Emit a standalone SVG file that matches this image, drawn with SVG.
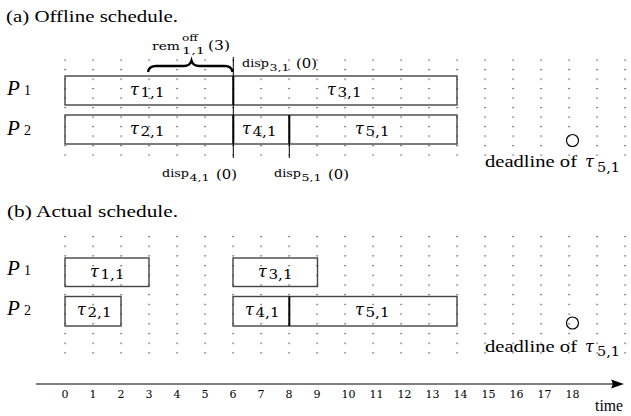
<svg xmlns="http://www.w3.org/2000/svg" width="631" height="416" viewBox="0 0 631 416">
<style>
.title{font-family:'Liberation Serif','Times New Roman',Times,serif;font-size:17px;fill:#000}
.proc{font-family:'Liberation Serif','Times New Roman',Times,serif;font-style:italic;font-size:21px}
.psub{font-family:'Liberation Serif','Times New Roman',Times,serif;font-size:14px}
.tau{font-family:'DejaVu Serif',serif;font-style:italic;font-size:16px}
.tsub{font-family:'DejaVu Serif',serif;font-size:12px}
.cm{font-family:'DejaVu Serif',serif;font-size:11px}
.cmp{font-family:'DejaVu Serif',serif;font-size:12px}
.cms{font-family:'DejaVu Serif',serif;font-size:9px}
.tick{font-family:'DejaVu Serif',serif;font-size:11px;text-anchor:middle}
.dl{font-family:'Liberation Serif','Times New Roman',Times,serif;font-size:17px}
.box{fill:none;stroke:#444;stroke-width:1.4}
.div{stroke:#000;stroke-width:2}
.thin{stroke:#000;stroke-width:1}
</style>
<defs>
<pattern id="gA" x="64.5" y="59.5" width="28" height="9.5" patternUnits="userSpaceOnUse"><rect width="1.2" height="1.2" fill="#222"/></pattern>
<pattern id="gB" x="64.5" y="235.9" width="28" height="9.7" patternUnits="userSpaceOnUse"><rect width="1.2" height="1.2" fill="#222"/></pattern>
</defs>

<text class="title" x="6" y="21.5" textLength="172" lengthAdjust="spacingAndGlyphs">(a) Offline schedule.</text>
<text class="title" x="7" y="216.5" textLength="171" lengthAdjust="spacingAndGlyphs">(b) Actual schedule.</text>

<!-- grids -->
<rect x="64" y="59" width="563" height="97" fill="url(#gA)"/>
<rect x="64" y="235.5" width="563" height="119" fill="url(#gB)"/>

<!-- processor labels -->
<g id="P1a"><text class="proc" x="7" y="95">P</text><text class="psub" x="24" y="95">1</text></g>
<g id="P2a"><text class="proc" x="7" y="135">P</text><text class="psub" x="24" y="135">2</text></g>
<g id="P1b"><text class="proc" x="7" y="275">P</text><text class="psub" x="24" y="275">1</text></g>
<g id="P2b"><text class="proc" x="7" y="315">P</text><text class="psub" x="24" y="315">2</text></g>

<!-- (a) offline schedule -->
<g id="a-P1-row">
<rect class="box" x="65" y="76" width="392" height="29"/>
</g>
<g id="a-P2-row">
<rect class="box" x="65" y="115" width="392" height="29"/>
</g>
<g id="connectors">
<line class="thin" x1="233.3" y1="57" x2="233.3" y2="158"/>
<line class="div" x1="233.3" y1="76" x2="233.3" y2="105"/>
<line class="div" x1="233.3" y1="115" x2="233.3" y2="144"/>
<line class="thin" x1="289.3" y1="115" x2="289.3" y2="158"/>
<line class="div" x1="289.3" y1="115" x2="289.3" y2="144"/>
<path d="M148,72 Q149,66 156,66 L184,66 Q190,66 191.5,60.5 Q193,66 199,66 L225,66 Q231.5,66 232.5,72" fill="none" stroke="#000" stroke-width="2.3"/>
</g>
<g id="a-tau11"><text class="tau" x="130" y="95">τ</text><text class="tsub" x="140.5" y="97" textLength="24" lengthAdjust="spacingAndGlyphs">1,1</text></g>
<g id="a-tau31"><text class="tau" x="327" y="95">τ</text><text class="tsub" x="337.5" y="97" textLength="24" lengthAdjust="spacingAndGlyphs">3,1</text></g>
<g id="a-tau21"><text class="tau" x="130" y="134">τ</text><text class="tsub" x="140.5" y="136" textLength="24" lengthAdjust="spacingAndGlyphs">2,1</text></g>
<g id="a-tau41"><text class="tau" x="242" y="134">τ</text><text class="tsub" x="252.5" y="136" textLength="24" lengthAdjust="spacingAndGlyphs">4,1</text></g>
<g id="a-tau51"><text class="tau" x="355" y="134">τ</text><text class="tsub" x="365.5" y="136" textLength="24" lengthAdjust="spacingAndGlyphs">5,1</text></g>

<g id="rem-label">
<text class="cm" x="152" y="50" textLength="28" lengthAdjust="spacingAndGlyphs">rem</text>
<text class="cms" x="182" y="40.5" textLength="16" lengthAdjust="spacingAndGlyphs">off</text>
<text class="cms" x="182" y="53.5" textLength="23" lengthAdjust="spacingAndGlyphs">1,1</text>
<text class="cmp" x="208" y="50" textLength="22" lengthAdjust="spacingAndGlyphs">(3)</text>
</g>
<g id="disp31">
<text class="cm" x="242" y="67" textLength="27" lengthAdjust="spacingAndGlyphs">disp</text>
<text class="cms" x="269.5" y="71" textLength="20" lengthAdjust="spacingAndGlyphs">3,1</text>
<text class="cmp" x="296" y="68" textLength="21" lengthAdjust="spacingAndGlyphs">(0)</text>
</g>
<g id="disp41">
<text class="cm" x="162" y="177" textLength="27" lengthAdjust="spacingAndGlyphs">disp</text>
<text class="cms" x="189.5" y="181" textLength="20" lengthAdjust="spacingAndGlyphs">4,1</text>
<text class="cmp" x="216" y="178.5" textLength="21" lengthAdjust="spacingAndGlyphs">(0)</text>
</g>
<g id="disp51">
<text class="cm" x="274" y="177" textLength="27" lengthAdjust="spacingAndGlyphs">disp</text>
<text class="cms" x="301.5" y="181" textLength="20" lengthAdjust="spacingAndGlyphs">5,1</text>
<text class="cmp" x="328" y="178.5" textLength="21" lengthAdjust="spacingAndGlyphs">(0)</text>
</g>
<g id="deadline-a">
<circle cx="572.5" cy="140.5" r="6" fill="none" stroke="#000" stroke-width="1.2"/>
<text class="dl" x="485" y="167" textLength="92" lengthAdjust="spacingAndGlyphs">deadline of</text>
<text class="tau" x="585" y="167">τ</text><text class="tsub" x="597" y="171.5" textLength="23" lengthAdjust="spacingAndGlyphs">5,1</text>
</g>

<!-- (b) actual schedule -->
<g id="b-tau11"><rect class="box" x="65" y="258" width="84" height="28.5"/><text class="tau" x="90" y="276.5">τ</text><text class="tsub" x="100.5" y="278.5" textLength="24" lengthAdjust="spacingAndGlyphs">1,1</text></g>
<g id="b-tau31"><rect class="box" x="233" y="258" width="84.5" height="28.5"/><text class="tau" x="258" y="276.5">τ</text><text class="tsub" x="268.5" y="278.5" textLength="24" lengthAdjust="spacingAndGlyphs">3,1</text></g>
<g id="b-tau21"><rect class="box" x="65" y="296.5" width="56" height="29.5"/><text class="tau" x="77" y="315">τ</text><text class="tsub" x="87.5" y="317" textLength="24" lengthAdjust="spacingAndGlyphs">2,1</text></g>
<g id="b-tau41-51"><rect class="box" x="233" y="296.5" width="224" height="29.5"/><line class="div" x1="289.3" y1="296.5" x2="289.3" y2="326"/>
<text class="tau" x="245" y="315">τ</text><text class="tsub" x="255.5" y="317" textLength="24" lengthAdjust="spacingAndGlyphs">4,1</text>
<text class="tau" x="355" y="315">τ</text><text class="tsub" x="365.5" y="317" textLength="24" lengthAdjust="spacingAndGlyphs">5,1</text></g>
<g id="deadline-b">
<circle cx="572.5" cy="323" r="6" fill="none" stroke="#000" stroke-width="1.2"/>
<text class="dl" x="485" y="351.5" textLength="92" lengthAdjust="spacingAndGlyphs">deadline of</text>
<text class="tau" x="585" y="351.5">τ</text><text class="tsub" x="597" y="356" textLength="23" lengthAdjust="spacingAndGlyphs">5,1</text>
</g>

<!-- time axis -->
<g id="axis">
<line x1="36" y1="384" x2="615" y2="384" stroke="#000" stroke-width="1.2"/>
<path d="M624,384 L611,379.5 Q614,384 611,388.5 Z" fill="#000"/>
<text class="tick" x="65" y="398">0</text>
<text class="tick" x="93" y="398">1</text>
<text class="tick" x="121" y="398">2</text>
<text class="tick" x="149" y="398">3</text>
<text class="tick" x="177" y="398">4</text>
<text class="tick" x="205" y="398">5</text>
<text class="tick" x="233" y="398">6</text>
<text class="tick" x="261" y="398">7</text>
<text class="tick" x="289" y="398">8</text>
<text class="tick" x="317" y="398">9</text>
<text class="tick" x="348.5" y="398">10</text>
<text class="tick" x="376.5" y="398">11</text>
<text class="tick" x="404.5" y="398">12</text>
<text class="tick" x="432.5" y="398">13</text>
<text class="tick" x="460.5" y="398">14</text>
<text class="tick" x="488.5" y="398">15</text>
<text class="tick" x="516.5" y="398">16</text>
<text class="tick" x="544.5" y="398">17</text>
<text class="tick" x="572.5" y="398">18</text>
<text class="dl" x="595" y="411" textLength="28" lengthAdjust="spacingAndGlyphs">time</text>
</g>
</svg>
